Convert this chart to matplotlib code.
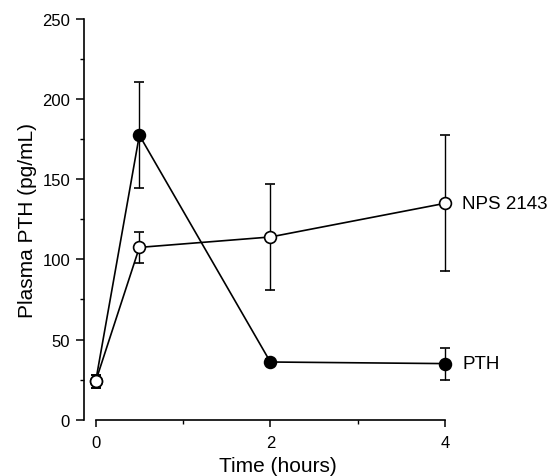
import matplotlib
matplotlib.use("Agg")
import matplotlib.pyplot as plt
from matplotlib.ticker import MultipleLocator

plt.rcParams['font.family'] = ['Liberation Sans', 'DejaVu Sans']

time_h = [0, 0.5, 2, 4]
nps_mean = [24, 107.5, 114, 135]
nps_err = [4, 9.5, 33, 42.5]
pth_mean = [24, 177.5, 36, 35]
pth_err = [4, 33, 2, 10]
series_labels = ["NPS 2143", "PTH"]

W, H = 552, 477
fig = plt.figure(figsize=(W / 100, H / 100), dpi=100)
x_left_px, x0_px, x4_px = 84, 95.7, 445
xmin = -(x0_px - x_left_px) / ((x4_px - x0_px) / 4)
xmax = 4.3
px_per_unit = (x4_px - x0_px) / 4
right_px = x0_px + xmax * px_per_unit
y0_px, y250_px = 420.7, 20
ax = fig.add_axes([x_left_px / W, (H - y0_px) / H, (right_px - x_left_px) / W, (y0_px - y250_px) / H])
ax.set_xlim(xmin, xmax)
ax.set_ylim(0, 250)

ax.spines['top'].set_visible(False)
ax.spines['right'].set_visible(False)
ax.spines['bottom'].set_bounds(0, 4)
ax.spines['left'].set_bounds(0, 250)
for s in ('left', 'bottom'):
    ax.spines[s].set_linewidth(1.2)

ax.set_xticks([0, 2, 4])
ax.xaxis.set_minor_locator(MultipleLocator(1))
ax.yaxis.set_major_locator(MultipleLocator(50))
ax.yaxis.set_minor_locator(MultipleLocator(25))
ax.tick_params(axis='both', which='major', direction='out', length=6, width=1.1, labelsize=12, pad=4)
ax.tick_params(axis='x', which='major', length=5, pad=6)
ax.tick_params(axis='both', which='minor', direction='out', length=3, width=1.0)

ms = 8.5
ax.errorbar(time_h, pth_mean, yerr=pth_err, color='black', lw=1.2, elinewidth=1.0,
            capsize=3.3, capthick=1.0, marker='o', ms=ms, mfc='black', mec='black', mew=1.2, zorder=3)
ax.errorbar(time_h, nps_mean, yerr=nps_err, color='black', lw=1.2, elinewidth=1.0,
            capsize=3.3, capthick=1.0, marker='o', ms=ms, mfc='white', mec='black', mew=1.2, zorder=4)

ax.text(4.2, nps_mean[-1], series_labels[0], ha='left', va='center', fontsize=13.5, clip_on=False)
ax.text(4.2, pth_mean[-1], series_labels[1], ha='left', va='center', fontsize=13.5, clip_on=False)

ax.set_xlabel("Time (hours)", fontsize=15, labelpad=4)
ax.set_ylabel("Plasma PTH (pg/mL)", fontsize=15, labelpad=4)

fig.savefig("out.png", dpi=100)
